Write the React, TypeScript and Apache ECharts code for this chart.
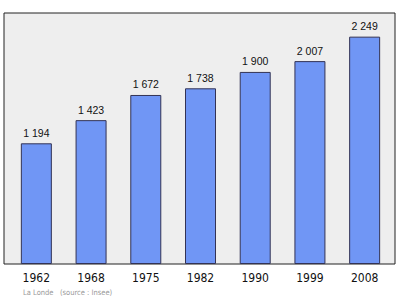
import React, { useEffect, useRef } from "react";
import * as echarts from "echarts";

const years = ["1962", "1968", "1975", "1982", "1990", "1999", "2008"];
const population = [1194, 1423, 1672, 1738, 1900, 2007, 2249];
const sourceText = "La Londe   (source : Insee)";

const fmt = (v: number) => {
  const s = String(v);
  return s.length > 3 ? s.slice(0, s.length - 3) + " " + s.slice(-3) : s;
};

export default function App() {
  const ref = useRef<HTMLDivElement>(null);
  useEffect(() => {
    if (!ref.current) return;
    const chart = echarts.init(ref.current, null, { renderer: "svg" });
    chart.setOption({
      animation: false,
      backgroundColor: "#ffffff",
      graphic: [
        {
          type: "rect",
          shape: { x: 4, y: 13, width: 391, height: 251 },
          style: { fill: "#eeeeee", stroke: "#222222", lineWidth: 1 },
          z: -10,
        },
        {
          type: "text",
          x: 23,
          y: 288,
          style: {
            text: sourceText,
            fill: "#999999",
            font: "7.5px 'DejaVu Sans Condensed', 'DejaVu Sans', sans-serif",
          },
        },
      ],
      grid: { left: 9, right: 8, top: 13, bottom: 35 },
      xAxis: {
        type: "category",
        data: years,
        axisLine: { show: false },
        axisTick: { show: false },
        axisLabel: {
          color: "#111111",
          fontSize: 12,
          fontFamily: "'DejaVu Sans Condensed', 'DejaVu Sans', sans-serif",
          margin: 8,
        },
      },
      yAxis: {
        type: "value",
        min: 0,
        max: 2483,
        show: false,
        splitLine: { show: false },
      },
      series: [
        {
          type: "bar",
          data: population,
          barWidth: 31,
          itemStyle: { color: "#7096f5", borderColor: "#333355", borderWidth: 1 },
          label: {
            show: true,
            position: "top",
            distance: 5,
            color: "#111111",
            fontSize: 10.5,
            fontFamily: "'Liberation Sans', Arial, sans-serif",
            formatter: (p: any) => fmt(p.value),
          },
        },
      ],
    });
    return () => chart.dispose();
  }, []);
  return (
    <div style={{ position: "fixed", left: 0, top: 0, width: 400, height: 299 }}>
      <div ref={ref} style={{ width: 400, height: 299 }} />
    </div>
  );
}
